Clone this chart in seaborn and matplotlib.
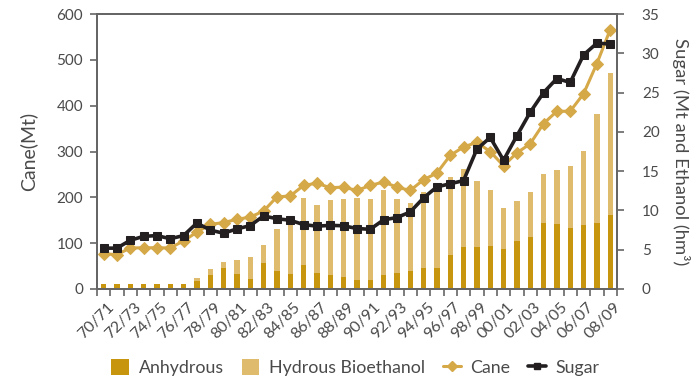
import numpy as np
import matplotlib
matplotlib.use("Agg")
import matplotlib.pyplot as plt
from matplotlib.patches import Patch
from matplotlib.lines import Line2D
import seaborn as sns

# Harvest seasons
seasons = ["70/71", "71/72", "72/73", "73/74", "74/75", "75/76", "76/77", "77/78",
           "78/79", "79/80", "80/81", "81/82", "82/83", "83/84", "84/85", "85/86",
           "86/87", "87/88", "88/89", "89/90", "90/91", "91/92", "92/93", "93/94",
           "94/95", "95/96", "96/97", "97/98", "98/99", "99/00", "00/01", "01/02",
           "02/03", "03/04", "04/05", "05/06", "06/07", "07/08", "08/09"]

# Ethanol production (hm3)
anhydrous = [0.65, 0.65, 0.65, 0.65, 0.65, 0.65, 0.65, 1.06, 1.82, 2.63,
             1.95, 1.32, 3.35, 2.33, 1.95, 3.10, 2.08, 1.82, 1.57, 1.19,
             1.19, 1.82, 2.08, 2.33, 2.72, 2.72, 4.37, 5.39, 5.39, 5.52,
             5.13, 6.15, 6.66, 8.44, 8.32, 7.81, 8.19, 8.44, 9.46]
hydrous = [0.0, 0.0, 0.0, 0.0, 0.0, 0.0, 0.0, 0.30, 0.68, 0.85,
           1.79, 2.80, 2.29, 5.35, 6.35, 8.52, 8.65, 9.55, 9.93, 10.43,
           10.31, 10.82, 9.42, 8.66, 9.67, 10.18, 9.93, 9.93, 8.40, 7.12,
           5.22, 5.09, 5.73, 6.24, 6.87, 7.89, 9.42, 13.88, 18.07]

# Sugarcane crushed (Mt)
cane = [77, 75, 89.5, 90, 90, 89.5, 105, 124, 141, 145,
        152, 157, 170, 201, 203, 226, 231, 221, 222.5, 215,
        226, 233.5, 222.5, 215, 238.5, 253, 291.6, 310, 320, 300,
        269, 297, 317, 361, 388, 388, 426, 492, 566]

# Sugar production (Mt)
sugar = [5.2, 5.2, 6.2, 6.7, 6.8, 6.4, 6.8, 8.4, 7.5, 7.1,
         7.65, 8.07, 9.3, 8.95, 8.75, 8.2, 8.0, 8.1, 8.05, 7.7,
         7.6, 8.8, 9.1, 9.8, 11.6, 13.0, 13.4, 13.8, 17.8, 19.3,
         16.4, 19.5, 22.5, 25.0, 26.8, 26.3, 29.8, 31.3, 31.2]

C_ANH = "#C8960E"
C_HYD = "#DFBB6E"
C_CANE = "#D5A848"
C_SUGAR = "#231F20"
C_TEXT = "#4A4A4A"
C_AXIS = "#666666"

sns.set_style("white")
plt.rcParams["font.family"] = ["Lato", "DejaVu Sans"]

n = len(seasons)
xpos = np.arange(n)
total = np.array(anhydrous) + np.array(hydrous)

fig = plt.figure(figsize=(6.97, 3.82), dpi=100)
ax = fig.add_axes([0.139, 0.2435, 0.746, 0.7195])

# Stacked ethanol bars on the right-hand scale
sns.barplot(x=xpos, y=total, color=C_HYD, width=0.4, ax=ax, saturation=1,
            native_scale=True, edgecolor="none")
sns.barplot(x=xpos, y=anhydrous, color=C_ANH, width=0.4, ax=ax, saturation=1,
            native_scale=True, edgecolor="none")
ax.set_ylim(0, 35)
ax.set_yticks(np.arange(0, 36, 5))

# Cane on the left-hand scale
ax_cane = ax.twinx()
sns.lineplot(x=xpos, y=cane, ax=ax_cane, color=C_CANE, lw=2.2, marker="D",
             markersize=6.5, markeredgecolor=C_CANE)
ax_cane.set_ylim(0, 600)
ax_cane.set_yticks(np.arange(0, 601, 100))

# Sugar on the right-hand scale, drawn last
ax_sug = ax.twinx()
sns.lineplot(x=xpos, y=sugar, ax=ax_sug, color=C_SUGAR, lw=2.6, marker="s",
             markersize=6, markeredgecolor=C_SUGAR)
ax_sug.set_ylim(0, 35)
ax_sug.set_yticks([])
ax_sug.set_ylabel("")

# Axis sides: ethanol/sugar scale on the right, cane scale on the left
ax.yaxis.tick_right()
ax.yaxis.set_label_position("right")
ax.set_ylabel("Sugar (Mt and Ethanol (hm³)", rotation=270, labelpad=22,
              fontsize=13.3, color=C_TEXT)
ax_cane.yaxis.tick_left()
ax_cane.yaxis.set_label_position("left")
ax_cane.set_ylabel("Cane(Mt)", fontsize=14, color=C_TEXT, labelpad=14)

for a in (ax, ax_cane, ax_sug):
    a.set_xlim(-0.5, n - 0.5)
    for s in a.spines.values():
        s.set_color(C_AXIS)
        s.set_linewidth(1.4)

ax_sug.set_xticks([])
ax_cane.set_xticks([])
ax_cane.set_xlabel("")
ax_sug.set_xlabel("")

# Season labels every other year, ticks at category boundaries
ax.set_xticks(xpos[::2] + 0.25)
ax.set_xticklabels(seasons[::2], rotation=45, ha="right",
                   rotation_mode="anchor", fontsize=11.5, color=C_TEXT)
ax.set_xticks(np.arange(-0.5, n, 1), minor=True)
ax.tick_params(axis="x", which="major", length=0, pad=8)
ax.tick_params(axis="x", which="minor", length=5, width=1.2, color=C_AXIS,
               direction="out", bottom=True)
ax.set_xlabel("")

ax.tick_params(axis="y", which="major", length=5, width=1.2, color=C_AXIS,
               direction="out", labelsize=11, labelcolor=C_TEXT, pad=13)
ax_cane.tick_params(axis="y", which="major", length=5, width=1.2, color=C_AXIS,
                    direction="out", labelsize=11, labelcolor=C_TEXT, pad=5)

handles = [
    Patch(facecolor=C_ANH, edgecolor="none"),
    Patch(facecolor=C_HYD, edgecolor="none"),
    Line2D([], [], color=C_CANE, lw=2.2, marker="D", markersize=5),
    Line2D([], [], color=C_SUGAR, lw=2.6, marker="s", markersize=5),
]
labels = ["Anhydrous", "Hydrous Bioethanol", "Cane", "Sugar"]
fig.legend(handles, labels, loc="center", bbox_to_anchor=(0.51, 0.037),
           ncol=4, frameon=False, fontsize=12.8, handlelength=1.0,
           handleheight=1.0, columnspacing=1.0, handletextpad=0.55,
           labelcolor=C_TEXT)

fig.savefig("out.png", dpi=100)
